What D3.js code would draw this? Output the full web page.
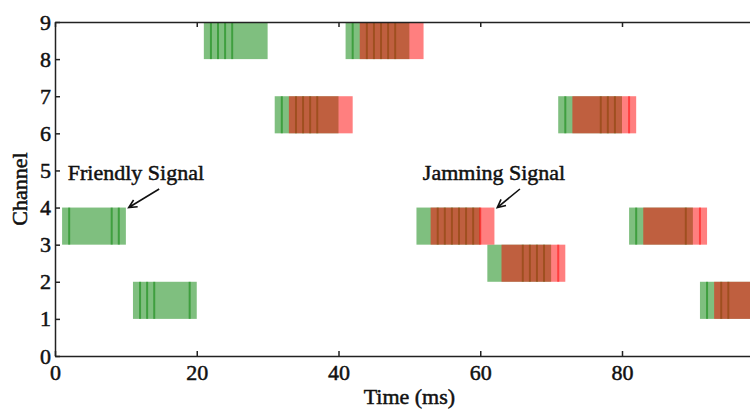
<!DOCTYPE html>
<html><head><meta charset="utf-8">
<script src="https://cdn.jsdelivr.net/npm/d3@7"></script>
<style>body{margin:0;background:#fff} svg{display:block}</style>
</head><body><svg id="c" width="750" height="410"></svg>
<script>
// ---- data ----
const friendlyStarts   = [1, 11, 21, 31, 41, 51, 61, 71, 81, 91];
const friendlyChannels = [3, 1, 8, 6, 8, 3, 2, 6, 3, 1];
const jammingStarts    = [33, 43, 53, 63, 73, 83, 93];
const jammingChannels  = [6, 8, 3, 2, 6, 3, 1];
const hopDuration = 9;
const friendlyLines = [2, 8, 9, 12, 13, 14, 19, 22, 23, 24, 25, 32, 34, 35, 36, 37,
                       42, 44, 45, 46, 47, 48, 54, 55, 56, 57, 58, 59, 66, 67, 68, 69,
                       72, 77, 78, 79, 82, 89, 92, 94, 95];
const friendlyLineChannels = [3, 3, 3, 1, 1, 1, 1, 8, 8, 8, 8, 6, 6, 6, 6, 6,
                       8, 8, 8, 8, 8, 8, 3, 3, 3, 3, 3, 3, 2, 2, 2, 2,
                       6, 6, 6, 6, 3, 3, 1, 1, 1];
const jammingLines = [60, 71, 81, 91];
const jammingLineChannels = [3, 2, 6, 3];
const xTicks = [0, 20, 40, 60, 80, 100];
const xTickLabels = ["0", "20", "40", "60", "80", ""];
const yTicks = [0, 1, 2, 3, 4, 5, 6, 7, 8, 9];
const annotationTexts = ["Friendly Signal", "Jamming Signal"];
const annotationTextAt = [[1.8, 4.74], [51.9, 4.74]];
const annotationTail = [[14.7, 4.5], [65.6, 4.5]];
const annotationTip = [[10.4, 4.0], [62.4, 4.0]];

// ---- drawing ----
const svg = d3.select("#c");
const x = d3.scaleLinear().domain([0, 100]).range([55, 763.75]);
const y = d3.scaleLinear().domain([0, 9]).range([356, 22]);
const font = "'Liberation Serif','Times New Roman',serif";

svg.append("defs").append("clipPath").attr("id", "clip")
  .append("rect").attr("x", x(0)).attr("y", y(9)).attr("width", x(100) - x(0)).attr("height", y(0) - y(9));

const plot = svg.append("g").attr("clip-path", "url(#clip)");
const green = "rgb(0,128,0)", red = "rgb(255,0,0)";

const fr = friendlyStarts.map((s, i) => ({s, c: friendlyChannels[i]}));
const jm = jammingStarts.map((s, i) => ({s, c: jammingChannels[i]}));

plot.selectAll(".f").data(fr).join("rect")
  .attr("x", d => x(d.s)).attr("width", d => x(d.s + hopDuration) - x(d.s))
  .attr("y", d => y(d.c + 1)).attr("height", d => y(d.c) - y(d.c + 1))
  .attr("fill", green).attr("fill-opacity", 0.5);
plot.selectAll(".fl").data(friendlyLines.map((t, i) => ({t, c: friendlyLineChannels[i]}))).join("rect")
  .attr("x", d => x(d.t) - 1).attr("width", 2)
  .attr("y", d => y(d.c + 1)).attr("height", d => y(d.c) - y(d.c + 1))
  .attr("fill", green).attr("fill-opacity", 0.5);
plot.selectAll(".j").data(jm).join("rect")
  .attr("x", d => x(d.s)).attr("width", d => x(d.s + hopDuration) - x(d.s))
  .attr("y", d => y(d.c + 1)).attr("height", d => y(d.c) - y(d.c + 1))
  .attr("fill", red).attr("fill-opacity", 0.5);
plot.selectAll(".jl").data(jammingLines.map((t, i) => ({t, c: jammingLineChannels[i]}))).join("rect")
  .attr("x", d => x(d.t) - 1).attr("width", 2)
  .attr("y", d => y(d.c + 1)).attr("height", d => y(d.c) - y(d.c + 1))
  .attr("fill", red).attr("fill-opacity", 0.5);

// axes
function style(g, labels) {
  g.select(".domain").attr("stroke", "#222").attr("stroke-width", 1.5);
  g.selectAll(".tick line").attr("stroke", "#222").attr("stroke-width", 1.5);
  g.selectAll(".tick text").attr("font-family", font).attr("font-size", 22)
    .attr("fill", "#111").attr("stroke", "#111").attr("stroke-width", 0.5);
  if (!labels) g.selectAll(".tick text").remove();
}
svg.append("g").attr("transform", `translate(0,${y(0)})`)
  .call(d3.axisBottom(x).tickValues(xTicks).tickFormat((d, i) => xTickLabels[i])
        .tickSize(-5).tickPadding(8).tickSizeOuter(0))
  .call(g => style(g, true));
svg.append("g").attr("transform", `translate(0,${y(9)})`)
  .call(d3.axisTop(x).tickValues(xTicks).tickSize(-5).tickSizeOuter(0))
  .call(g => style(g, false));
svg.append("g").attr("transform", `translate(${x(0)},0)`)
  .call(d3.axisLeft(y).tickValues(yTicks).tickSize(-5).tickPadding(4).tickSizeOuter(0))
  .call(g => style(g, true));

// axis titles
svg.append("text").attr("x", (x(0) + x(100)) / 2).attr("y", 404)
  .attr("text-anchor", "middle").attr("font-family", font).attr("font-size", 22)
  .attr("fill", "#111").attr("stroke", "#111").attr("stroke-width", 0.5).text("Time (ms)");
svg.append("text").attr("transform", `translate(27,${(y(0) + y(9)) / 2}) rotate(-90)`)
  .attr("text-anchor", "middle").attr("font-family", font).attr("font-size", 22)
  .attr("fill", "#111").attr("stroke", "#111").attr("stroke-width", 0.5).text("Channel");

// annotations
annotationTexts.forEach((t, i) => {
  svg.append("text").attr("x", x(annotationTextAt[i][0])).attr("y", y(annotationTextAt[i][1]))
    .attr("font-family", font).attr("font-size", 22)
    .attr("fill", "#111").attr("stroke", "#111").attr("stroke-width", 0.5).text(t);
  const x1 = x(annotationTail[i][0]), y1 = y(annotationTail[i][1]);
  const x2 = x(annotationTip[i][0]), y2 = y(annotationTip[i][1]);
  const ang = Math.atan2(y2 - y1, x2 - x1), L = 9, w = 0.45;
  const p1 = [x2 - L * Math.cos(ang - w), y2 - L * Math.sin(ang - w)];
  const p2 = [x2 - L * Math.cos(ang + w), y2 - L * Math.sin(ang + w)];
  svg.append("path").attr("d", `M${x1},${y1}L${x2},${y2}M${p1}L${x2},${y2}L${p2}`)
    .attr("fill", "none").attr("stroke", "#111").attr("stroke-width", 1.6);
});
</script></body></html>
